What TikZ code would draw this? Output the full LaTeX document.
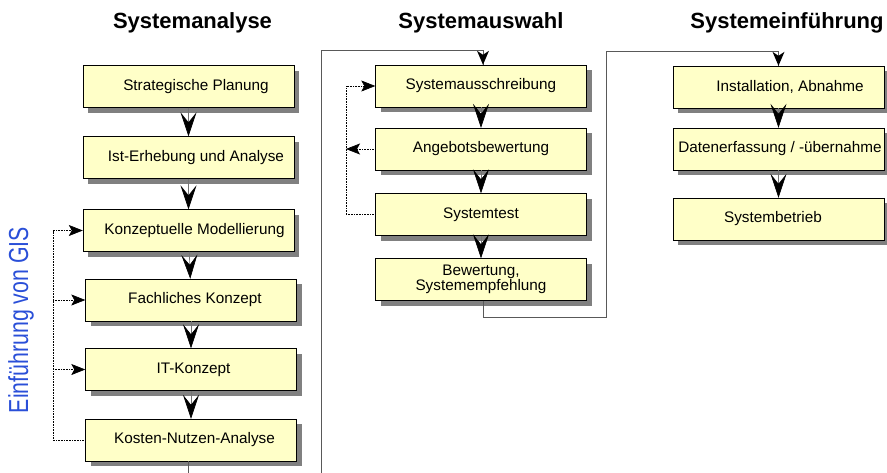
\documentclass[tikz,border=0pt]{standalone}
\usepackage{fontspec}
\setmainfont{Liberation Sans}
\usetikzlibrary{arrows.meta,shadows,calc}
\definecolor{boxfill}{HTML}{FFFFC8}
\definecolor{gisblue}{HTML}{2A4FD8}
\begin{document}
\begin{tikzpicture}[x=1pt,y=-1pt,
        phase/.style={draw=black,thin,fill=boxfill,minimum width=211pt,minimum height=42pt,
            inner sep=0pt,align=center,font=\fontsize{15.3}{16}\selectfont,
            drop shadow={shadow xshift=5pt,shadow yshift=-5pt,fill=black!50,opacity=1}},
        nudge/.style={execute at begin node={\hspace*{#1}}},
        title/.style={font=\fontsize{22}{24}\selectfont\bfseries},
        next/.style={draw=black!55,line width=0.6pt,-{Stealth[length=24pt,width=16pt,inset=10pt,black]}},
        back/.style={draw=black,densely dotted,line width=0.6pt,-{Stealth[length=14pt,width=11pt,inset=3pt]}},
        loopline/.style={draw=black!65,line width=0.8pt},
        loophead/.style={fill=black}]
    \clip (0,0) rectangle (887,472);
    \node[title] (tana) at (192.5,23) {Systemanalyse};
    \node[title] (taus) at (481,23) {Systemauswahl};
    \node[title] (tein) at (787,23) {Systemeinführung};
    \node[gisblue,rotate=90,font=\fontsize{27.5}{28}\selectfont] (gis) at (21,320)
        {\scalebox{0.775}[1]{Einführung von GIS}};
    \node[phase,nudge=15pt] (sp) at (188.5,86.5) {Strategische Planung};
    \node[phase,nudge=15pt] (ist) at (188.5,157.5) {Ist-Erhebung und Analyse};
    \node[phase,nudge=12pt] (konz) at (188.5,230.5) {Konzeptuelle Modellierung};
    \node[phase,nudge=8pt] (fach) at (191,300) {Fachliches Konzept};
    \node[phase,nudge=5pt] (it) at (191,369.5) {IT-Konzept};
    \node[phase,nudge=7pt] (kna) at (191,440) {Kosten-Nutzen-Analyse};
    \node[phase] (aus) at (481,86) {Systemausschreibung};
    \node[phase] (ang) at (481,149) {Angebotsbewertung};
    \node[phase] (test) at (481,214.5) {Systemtest};
    \node[phase] (bew) at (481,279.5) {Bewertung,\\[-1pt]Systemempfehlung};
    \node[phase,nudge=23pt] (inst) at (778.5,87) {Installation, Abnahme};
    \node[phase,nudge=3pt] (dat) at (778.5,149) {Datenerfassung / -übernahme};
    \node[phase,nudge=-11pt] (betr) at (778.5,219) {Systembetrieb};
    \coordinate (fbl) at (53,0);
    \coordinate (fbm) at (346,0);
    \coordinate (lp1) at (321,50);
    \coordinate (lp2) at (606,51);
    \coordinate (in1) at ([xshift=2pt]aus.north);
    \coordinate (in2) at (inst.north);
    \draw[next] (sp) -- (ist);
    \draw[next] (ist) -- (konz);
    \draw[next] (konz) -- (fach);
    \draw[next] (fach) -- (it);
    \draw[next] (it) -- (kna);
    \draw[next] (aus) -- (ang);
    \draw[next] (ang) -- (test);
    \draw[next] (test) -- (bew);
    \draw[next] (inst) -- (dat);
    \draw[next] (dat) -- (betr);
    \draw[back] (kna.west) -- (kna.west -| fbl) |- (konz.west);
    \draw[back] (fach.west -| fbl) -- (fach.west);
    \draw[back] (it.west -| fbl) -- (it.west);
    \draw[back] (test.west) -- (test.west -| fbm) |- (aus.west);
    \draw[back] (ang.west) -- (ang.west -| fbm);
    \draw[loopline] ([xshift=-3pt]kna.south) -- ++(0,40) -| (lp1) -| (in1);
    \fill[loophead] (in1) -- ++(-6,-14) -- ++(6,4) -- ++(6,-4) -- cycle;
    \draw[loopline] ([xshift=2pt]bew.south) -- ++(0,17) -| (lp2) -| (in2);
    \fill[loophead] (in2) -- ++(-6,-14) -- ++(6,4) -- ++(6,-4) -- cycle;
\end{tikzpicture}
\end{document}
